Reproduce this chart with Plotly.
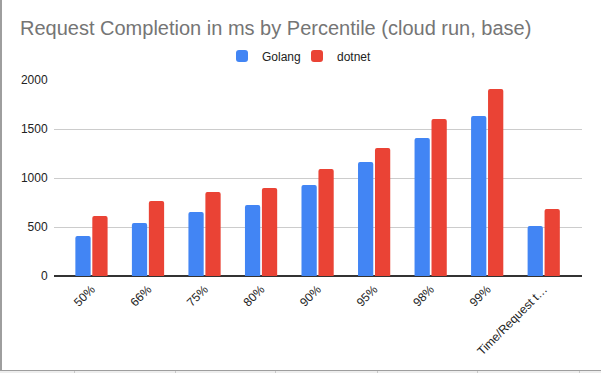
import plotly.graph_objects as go

categories = ["50%", "66%", "75%", "80%", "90%", "95%", "98%", "99%", "Time/Request t…"]
golang = [408, 541, 653, 724, 929, 1163, 1408, 1633, 510]
dotnet = [612, 765, 857, 898, 1092, 1306, 1602, 1908, 684]
y_ticks = [0, 500, 1000, 1500, 2000]

W, H = 601, 373
def px(x):
    return x / W
def py(y):
    return 1 - y / H

FONT = "Arial, 'Liberation Sans', sans-serif"

fig = go.Figure()
fig.add_trace(go.Bar(name="Golang", x=categories, y=golang, marker=dict(color="#4285F4", line=dict(width=0))))
fig.add_trace(go.Bar(name="dotnet", x=categories, y=dotnet, marker=dict(color="#EA4335", line=dict(width=0))))

n = len(categories)
pad = 0.17

shapes = [
    dict(type="rect", xref="paper", yref="paper", x0=0, x1=1, y0=0, y1=py(370),
         fillcolor="#eeeeee", line=dict(width=0), layer="below"),
    dict(type="line", xref="paper", yref="paper", x0=0, x1=1, y0=py(370.5), y1=py(370.5),
         line=dict(color="#9e9e9e", width=1)),
    dict(type="line", xref="paper", yref="paper", x0=px(1), x1=px(1), y0=py(370.5), y1=1,
         line=dict(color="#9e9e9e", width=2)),
]
for sx in [74, 175, 275, 377, 477, 579]:
    shapes.append(dict(type="line", xref="paper", yref="paper", x0=px(sx + 0.5), x1=px(sx + 0.5),
                       y0=0, y1=py(371), line=dict(color="#c8c8c8", width=1)))

fig.update_layout(
    width=W, height=H,
    margin=dict(l=0, r=0, t=0, b=0),
    paper_bgcolor="white", plot_bgcolor="white",
    font=dict(family=FONT, size=12, color="#222222"),
    barmode="group", bargap=0.4, bargroupgap=0.1, barcornerradius=2,
    showlegend=True,
    legend=dict(orientation="h", x=px(297), xanchor="center", y=py(56), yanchor="middle",
                font=dict(size=12, color="#222222"), bgcolor="rgba(0,0,0,0)",
                entrywidth=30, itemwidth=30),
    xaxis=dict(domain=[px(53.6), px(581.6)], range=[-0.5 - pad, n - 0.5 + pad],
               tickangle=-45, showgrid=False, showline=False, zeroline=False, ticks="",
               tickfont=dict(size=12, color="#222222"), automargin=False, ticklabelstandoff=3),
    yaxis=dict(domain=[py(276), py(80)], range=[0, 2000], tickvals=y_ticks,
               showgrid=True, gridcolor="#cccccc", gridwidth=1, zeroline=True,
               zerolinecolor="#333333", zerolinewidth=1.5, showline=False, ticks="",
               tickfont=dict(size=12, color="#222222"), automargin=False, ticklabelstandoff=5),
    annotations=[dict(text="Request Completion in ms by Percentile (cloud run, base)",
                      x=px(18), y=py(28), xref="paper", yref="paper", xanchor="left", yanchor="middle",
                      showarrow=False, font=dict(family=FONT, size=20, color="#757575"))],
    shapes=shapes,
)

fig.write_html("out.html", config={"displayModeBar": False},
               post_script="document.body.style.margin='0';document.body.style.overflow='hidden';")
